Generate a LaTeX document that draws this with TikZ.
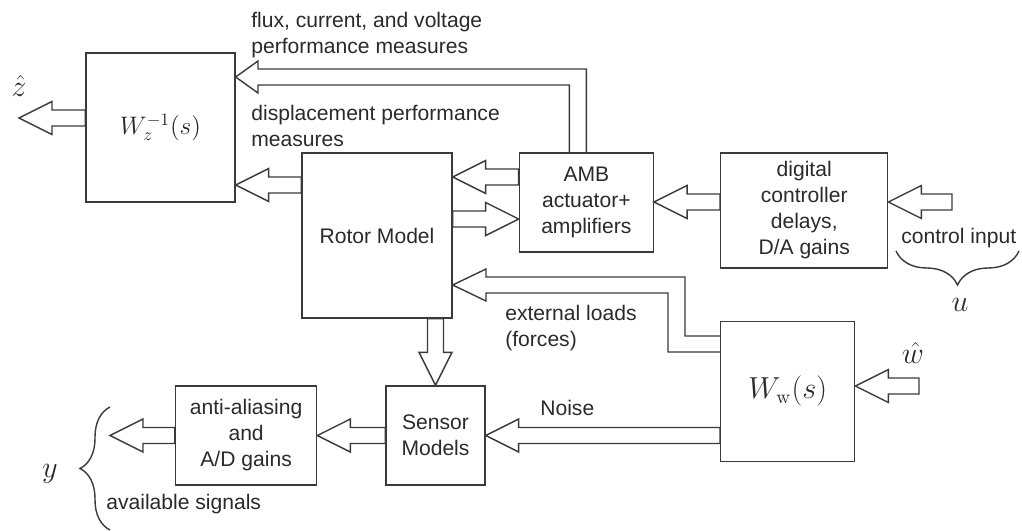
\documentclass[tikz,border=0pt]{standalone}
\usepackage{amsmath}
\usepackage[no-math]{fontspec}
\setmainfont{Liberation Sans}
\usepackage{tikz}
\usetikzlibrary{positioning, calc, decorations.pathreplacing}
\usepackage{xcolor}
\definecolor{Line}{HTML}{3A3A3A}
\definecolor{Ink}{HTML}{2A2A2A}
\newcommand{\boxfont}{\fontsize{12}{14.8}\selectfont}
% hollow block arrow from #1 to tip #2
\newcommand{\fatarrow}[2]{%
  \coordinate (fa-h) at ($(#2)!0.66cm!(#1)$);
  \draw[fat] ($(#1)!0.16cm!90:(#2)$) -- ($(fa-h)!0.16cm!90:(#2)$) -- ($(fa-h)!0.33cm!90:(#2)$) -- (#2)
    -- ($(fa-h)!0.33cm!-90:(#2)$) -- ($(fa-h)!0.16cm!-90:(#2)$) -- ($(#1)!0.16cm!-90:(#2)$) -- cycle;}

\begin{document}
\begin{tikzpicture}[
    x=0.02cm, y=-0.02cm,
    block/.style={draw=Line, line width=0.8pt, align=center, inner sep=2pt},
    fat/.style={draw=Line, line width=0.8pt},
    curly/.style={draw=Line, line width=0.8pt, decorate, decoration={brace, amplitude=#1}},
    sym/.style={inner sep=0, font=\fontsize{#1}{19}\selectfont},
    every node/.style={font=\boxfont, text=Ink}
]
\useasboundingbox (0,0) rectangle (1022,531);

% Blocks
\node[block, minimum width=2.98cm, minimum height=2.98cm, font=\fontsize{14.5}{17}\selectfont] (wz) at (160.5,127.5) {$W_z^{-1}(s)$};
\node[block, minimum width=3cm, minimum height=3.3cm] (rotor) at (377,235.5) {Rotor Model};
\node[block, minimum width=2.68cm, minimum height=1.98cm, right=1.32cm of rotor.north east, anchor=north west] (amb) {AMB\\actuator+\\amplifiers};
\node[block, minimum width=3.34cm, minimum height=2.3cm, right=1.32cm of amb.north east, anchor=north west] (ctrl) {digital\\controller\\delays,\\D/A gains};
\node[block, minimum width=2.68cm, minimum height=2.8cm, below=1.04cm of ctrl.south west, anchor=north west, font=\fontsize{16}{19}\selectfont] (ww) {$W_{\mathrm{w}}(s)$};
\node[block, minimum width=1.98cm, minimum height=1.98cm] (sensor) at (435.5,435.5) {Sensor\\Models};
\node[block, minimum width=2.82cm, minimum height=1.98cm, left=1.36cm of sensor] (anti) {anti-aliasing\\and\\A/D gains};

% Labels
\node[anchor=north west, inner sep=0, align=left] (fluxlbl) at (251,11.5) {flux, current, and voltage\\performance measures};
\node[anchor=north west, inner sep=0, align=left] (displbl) at (251,104.5) {displacement performance\\measures};
\node[anchor=north west, inner sep=0, align=left] (loadlbl) at (505,304.5) {external loads\\(forces)};
\node[anchor=base west, inner sep=0] (noiselbl) at (540,415) {Noise};
\node[anchor=base west, inner sep=0] (cinlbl) at (901,243) {control input};
\node[anchor=base west, inner sep=0] (avlbl) at (106,509) {available signals};
\node[sym=16] (zhat) at (19,86) {$\hat{z}$};
\node[sym=16] (what) at (913,353) {$\hat{w}$};
\node[sym=17] (ulbl) at (960,305) {$u$};
\node[sym=17] (ylbl) at (50,474) {$y$};

% Braces
\draw[curly=0.68cm] (1019,251) -- (896,251);
\draw[curly=0.6cm] (110,530) -- (110,407);

% Straight block arrows
\coordinate (zout) at (19,118);
\fatarrow{wz.west |- zout}{zout}
\fatarrow{rotor.west |- 0,185}{wz.east |- 0,185}
\fatarrow{amb.west |- 0,177}{rotor.east |- 0,177}
\fatarrow{rotor.east |- 0,219}{amb.west |- 0,219}
\fatarrow{ctrl.west |- 0,202}{amb.east |- 0,202}
\coordinate (uin) at (952,202);
\fatarrow{uin}{ctrl.east |- uin}
\coordinate (win) at (919,386);
\fatarrow{win}{ww.east |- win}
\fatarrow{ww.west |- sensor.east}{sensor.east}
\fatarrow{sensor.north |- rotor.south}{sensor.north}
\fatarrow{sensor.west}{anti.east}
\coordinate (yout) at (110,435.5);
\fatarrow{anti.west}{yout}

% Bent block arrows
\draw[fat] (amb.north) |- (258,69) -- (258,61) -- (wz.east |- 0,77) -- (258,93) -- (258,85) -| ([xshift=-0.34cm]amb.north);
\draw[fat] (ww.west |- 0,336) -| (685,277) -- (486,277) -- (486,269) -- (rotor.east |- 0,285) -- (486,301) -- (486,293) -| (668,352) -- (ww.west |- 0,352);

\end{tikzpicture}
\end{document}
